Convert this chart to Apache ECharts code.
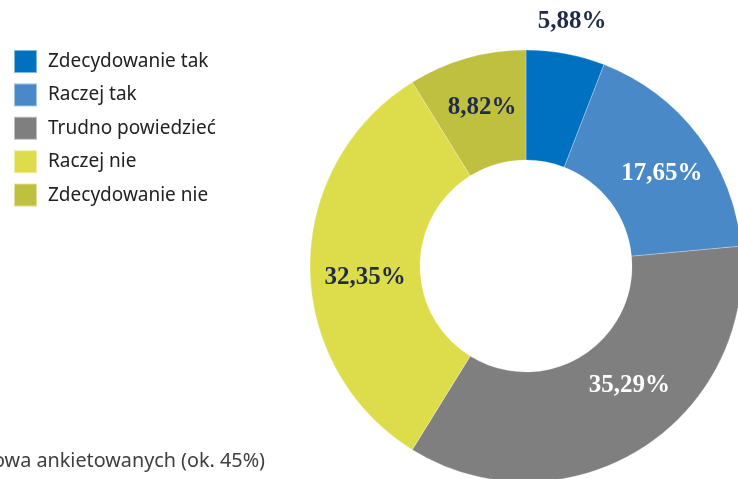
<!DOCTYPE html>
<html><head><meta charset="utf-8">
<script src="https://cdn.jsdelivr.net/npm/echarts@6/dist/echarts.min.js"></script>
<style>html,body{margin:0;padding:0;background:#fff}#c{width:738px;height:479px}</style>
</head><body><div id="c"></div>
<script>
const categories = ['Zdecydowanie tak','Raczej tak','Trudno powiedzieć','Raczej nie','Zdecydowanie nie'];
const values = [5.88, 17.65, 35.29, 32.35, 8.82];
const colors = ['#0070C0','#4A89C8','#7F7F7F','#DDDD4B','#BFBF40'];
const labelColors = ['#1F2B47','#FFFFFF','#FFFFFF','#1F2B47','#1F2B47'];
const note = 'połowa ankietowanych (ok. 45%)';

const chart = echarts.init(document.getElementById('c'), null, {renderer:'canvas'});
const labelShift = [null, [5,6], [17,-20], [3,12], [1,-1]];
chart.setOption({
  animation:false,
  legend:{
    orient:'vertical', left:13, top:49, padding:0, itemWidth:23, itemHeight:23, itemGap:8.4,
    icon:'rect',
    textStyle:{fontFamily:'Noto Sans', fontSize:19, lineHeight:23, height:23, color:'#222', padding:[0,0,0,6]},
    data: categories
  },
  graphic:[{type:'text', right: 738-265, top:451, style:{text:note, fontFamily:'Noto Sans', fontSize:19.8, fill:'#404040', textAlign:'right'}}],
  series:[{
    type:'pie', center:[526,266], radius:[106,216], startAngle:90, clockwise:true,
    itemStyle:{borderColor:'rgba(255,255,255,0.5)', borderWidth:0.5},
    label:{show:true, position:'inside', fontFamily:'Liberation Serif', fontWeight:'bold', fontSize:25,
      formatter: p => p.value.toFixed(2).replace('.', ',') + '%'},
    labelLine:{show:false},
    labelLayout: function(p){
      if (p.dataIndex === 0) return {x:572, y:22, align:'center', verticalAlign:'middle'};
      const s = labelShift[p.dataIndex];
      return {dx:s[0], dy:s[1]};
    },
    data: categories.map((n,i)=>({name:n, value:values[i], itemStyle:{color:colors[i]}, label:{color:labelColors[i]}}))
  }]
});
</script></body></html>
